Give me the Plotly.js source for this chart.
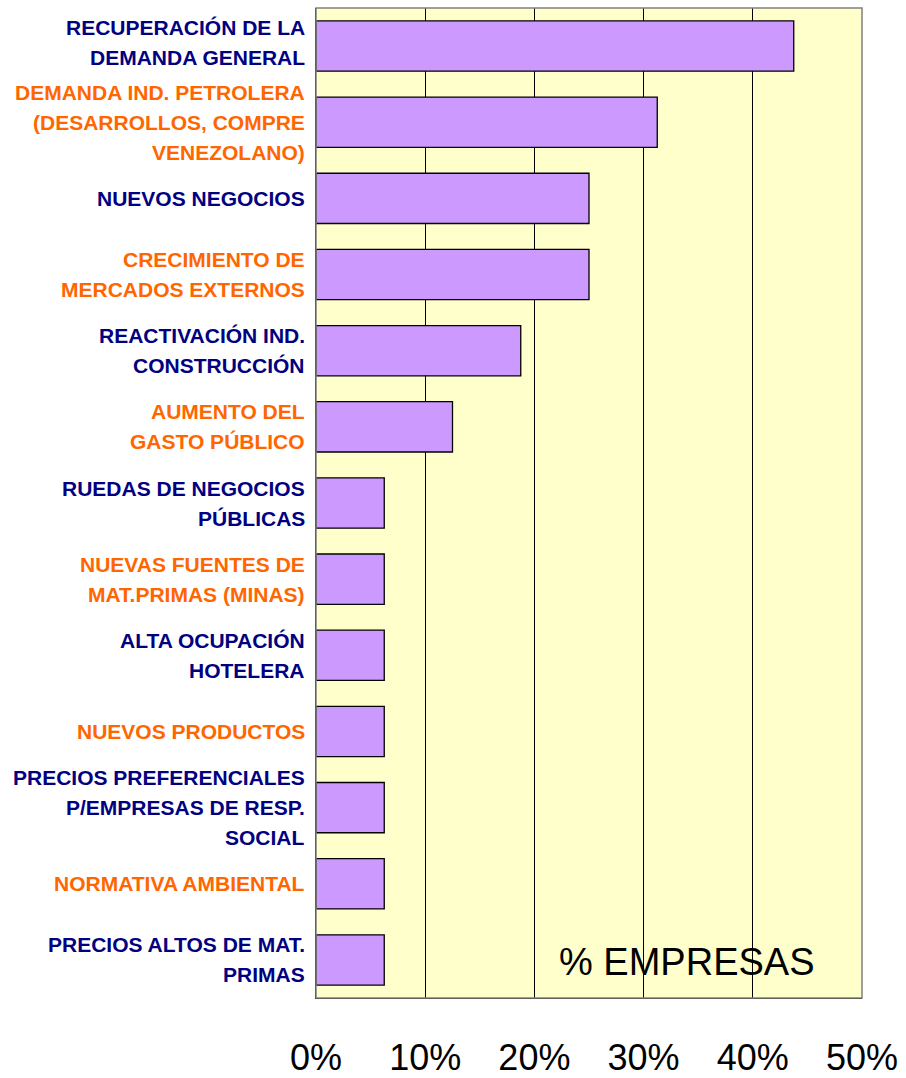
<!DOCTYPE html>
<html>
<head>
<meta charset="utf-8">
<script src="https://cdn.plot.ly/plotly-3.0.1.min.js"></script>
<style>
  html, body { margin: 0; padding: 0; background: #ffffff; }
  #chart { width: 906px; height: 1078px; }
</style>
</head>
<body>
<div id="chart"></div>
<script>
// ---- Data ----
const categories = [
  "RECUPERACIÓN DE LA\nDEMANDA GENERAL",
  "DEMANDA IND. PETROLERA\n(DESARROLLOS, COMPRE\nVENEZOLANO)",
  "NUEVOS NEGOCIOS",
  "CRECIMIENTO DE\nMERCADOS EXTERNOS",
  "REACTIVACIÓN IND.\nCONSTRUCCIÓN",
  "AUMENTO DEL\nGASTO PÚBLICO",
  "RUEDAS DE NEGOCIOS\nPÚBLICAS",
  "NUEVAS FUENTES DE\nMAT.PRIMAS (MINAS)",
  "ALTA OCUPACIÓN\nHOTELERA",
  "NUEVOS PRODUCTOS",
  "PRECIOS PREFERENCIALES\nP/EMPRESAS DE RESP.\nSOCIAL",
  "NORMATIVA AMBIENTAL",
  "PRECIOS ALTOS DE MAT.\nPRIMAS"
];
const values = [43.75, 31.25, 25, 25, 18.75, 12.5, 6.25, 6.25, 6.25, 6.25, 6.25, 6.25, 6.25];
const labelColors = ["#000080", "#FF6600", "#000080", "#FF6600", "#000080", "#FF6600", "#000080",
                     "#FF6600", "#000080", "#FF6600", "#000080", "#FF6600", "#000080"];
const tickValues = [0, 10, 20, 30, 40, 50];
const tickLabels = ["0%", "10%", "20%", "30%", "40%", "50%"];
const axisTitle = "% EMPRESAS";

// ---- Category labels as annotations (one per line, for Excel-like line spacing) ----
const FONT = "'Liberation Sans', Arial, sans-serif";
const LINE_GAP = 30;
const annotations = [];
categories.forEach((cat, idx) => {
  const lines = cat.split("\n");
  const n = lines.length;
  lines.forEach((ln, i) => {
    annotations.push({
      xref: "paper", x: 0, xanchor: "right", xshift: -9,
      yref: "y", y: cat, yanchor: "middle",
      yshift: ((n - 1) / 2 - i) * LINE_GAP + (idx === 0 ? 4 : 0),
      text: "<b>" + ln + "</b>",
      showarrow: false,
      font: { family: FONT, size: 21, color: labelColors[idx] }
    });
  });
});
annotations.push({
  xref: "x", x: 34, yref: "paper", y: 0.036, yanchor: "middle", xanchor: "center",
  text: axisTitle, showarrow: false,
  font: { family: FONT, size: 38, color: "#000000" }
});

const trace = {
  type: "bar",
  orientation: "h",
  x: values,
  y: categories,
  marker: { color: "#CC99FF", line: { color: "#000000", width: 1.3 } },
  hoverinfo: "x+y"
};

const layout = {
  width: 906, height: 1078,
  margin: { l: 316, r: 44, t: 8, b: 80 },
  paper_bgcolor: "#ffffff",
  plot_bgcolor: "#FFFFCC",
  showlegend: false,
  bargap: 0.34,
  font: { family: FONT },
  xaxis: {
    range: [0, 50],
    tickvals: tickValues,
    ticktext: tickLabels,
    tickfont: { family: FONT, size: 36, color: "#000000" },
    ticks: "outside", ticklen: 28, tickcolor: "rgba(0,0,0,0)",
    showgrid: true, gridcolor: "#000000", gridwidth: 1,
    zeroline: false,
    showline: true, linecolor: "#000000", linewidth: 1,
    fixedrange: true
  },
  yaxis: {
    type: "category",
    autorange: "reversed",
    showticklabels: false,
    ticks: "",
    showgrid: false, zeroline: false,
    showline: true, linecolor: "#000000", linewidth: 1,
    fixedrange: true
  },
  shapes: [{
    type: "rect", xref: "paper", yref: "paper", x0: 0, x1: 1, y0: 0, y1: 1,
    line: { color: "#808080", width: 1.5 }, fillcolor: "rgba(0,0,0,0)", layer: "above"
  }],
  annotations: annotations
};

Plotly.newPlot("chart", [trace], layout, { displayModeBar: false, staticPlot: true });
</script>
</body>
</html>
